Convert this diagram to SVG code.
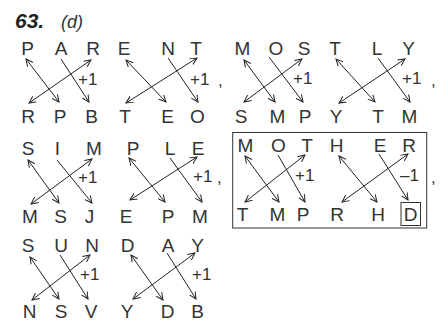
<svg xmlns="http://www.w3.org/2000/svg" width="447" height="321" viewBox="0 0 447 321">
<defs>
<style>
.l{font-family:"Liberation Sans",Arial,sans-serif;font-size:19px;fill:#333;text-anchor:middle}
.n{font-family:"Liberation Sans",Arial,sans-serif;font-size:17px;fill:#333}
.c{stroke:#222;stroke-width:1;fill:none}
.d{marker-start:url(#ah);marker-end:url(#ah)}
.s{marker-end:url(#ah)}
.box{fill:none;stroke:#333;stroke-width:1}
</style>
<marker id="ah" viewBox="0 0 8 8" refX="7" refY="4" markerWidth="8" markerHeight="8" markerUnits="userSpaceOnUse" orient="auto-start-reverse">
<path d="M0,0.6 L7,4 L0,7.4" fill="none" stroke="#222" stroke-width="1"/>
</marker>
</defs>
<rect width="447" height="321" fill="#fff"/>
<g id="title">
<text x="15" y="28" font-family="Liberation Sans,Arial,sans-serif" font-size="21" font-weight="bold" font-style="italic" fill="#222">63.</text>
<text x="61" y="28" font-family="Liberation Sans,Arial,sans-serif" font-size="18" font-style="italic" fill="#333">(d)</text>
</g>
<g id="g-PAR">
<text class="l" x="27.5" y="55">P</text><text class="l" x="61" y="55">A</text><text class="l" x="93" y="55">R</text>
<text class="l" x="28" y="123">R</text><text class="l" x="60" y="123">P</text><text class="l" x="91.5" y="123">B</text>
<text class="n" x="78" y="85">+1</text>
</g>
<g id="g-ENT">
<text class="l" x="124" y="55">E</text><text class="l" x="168" y="55">N</text><text class="l" x="196" y="55">T</text>
<text class="l" x="125" y="123">T</text><text class="l" x="167.5" y="123">E</text><text class="l" x="197.5" y="123">O</text>
<text class="n" x="190" y="85">+1</text><text class="n" x="218" y="86">,</text>
</g>
<g id="g-MOS">
<text class="l" x="242.5" y="55">M</text><text class="l" x="276" y="55">O</text><text class="l" x="304" y="55">S</text>
<text class="l" x="241" y="123">S</text><text class="l" x="277.5" y="123">M</text><text class="l" x="305" y="123">P</text>
<text class="n" x="293" y="84">+1</text>
</g>
<g id="g-TLY">
<text class="l" x="335" y="55">T</text><text class="l" x="377" y="55">L</text><text class="l" x="408.5" y="55">Y</text>
<text class="l" x="336" y="123">Y</text><text class="l" x="378" y="123">T</text><text class="l" x="409.5" y="123">M</text>
<text class="n" x="402" y="84">+1</text><text class="n" x="431" y="86">,</text>
</g>
<g id="g-SIM">
<text class="l" x="28" y="155">S</text><text class="l" x="57.5" y="155">I</text><text class="l" x="94" y="155">M</text>
<text class="l" x="30" y="222.5">M</text><text class="l" x="60.5" y="222.5">S</text><text class="l" x="89.5" y="222.5">J</text>
<text class="n" x="78" y="183">+1</text>
</g>
<g id="g-PLE">
<text class="l" x="133" y="155">P</text><text class="l" x="170" y="155">L</text><text class="l" x="198" y="155">E</text>
<text class="l" x="126" y="222.5">E</text><text class="l" x="168" y="222.5">P</text><text class="l" x="200" y="222.5">M</text>
<text class="n" x="193" y="182">+1</text><text class="n" x="217" y="183">,</text>
</g>
<g id="g-MOTHER">
<rect class="box" x="232.7" y="132.5" width="194" height="95.5"/>
<rect class="box" x="401" y="202.5" width="19.5" height="23"/>
<text class="l" x="245.5" y="152">M</text><text class="l" x="278.5" y="152">O</text><text class="l" x="307" y="152">T</text>
<text class="l" x="336.5" y="152">H</text><text class="l" x="380" y="152">E</text><text class="l" x="409" y="152">R</text>
<text class="l" x="242.5" y="220.5">T</text><text class="l" x="277.5" y="220.5">M</text><text class="l" x="303" y="220.5">P</text>
<text class="l" x="337" y="220.5">R</text><text class="l" x="378" y="220.5">H</text><text class="l" x="410.5" y="220.5">D</text>
<text class="n" x="295" y="181">+1</text><text class="n" x="400" y="181">–1</text><text class="n" x="431" y="183">,</text>
</g>
<g id="g-SUN">
<text class="l" x="28" y="252">S</text><text class="l" x="61" y="252">U</text><text class="l" x="92" y="252">N</text>
<text class="l" x="29.5" y="318">N</text><text class="l" x="61" y="318">S</text><text class="l" x="91" y="318">V</text>
<text class="n" x="80" y="280">+1</text>
</g>
<g id="g-DAY">
<text class="l" x="127.5" y="252">D</text><text class="l" x="168" y="252">A</text><text class="l" x="197.5" y="252">Y</text>
<text class="l" x="127" y="318">Y</text><text class="l" x="167.5" y="318">D</text><text class="l" x="197.5" y="318">B</text>
<text class="n" x="192" y="280">+1</text>
</g>
<g id="connectors" class="c">
<line class="d" x1="26" y1="59" x2="59" y2="102"/><line class="s" x1="61" y1="59" x2="89" y2="102"/><line class="d" x1="91" y1="60" x2="29" y2="103"/>
<line class="d" x1="126" y1="60" x2="166" y2="102"/><line class="s" x1="168" y1="58" x2="198" y2="102"/><line class="d" x1="197" y1="58" x2="126" y2="103"/>
<line class="d" x1="244" y1="60" x2="275" y2="102"/><line class="s" x1="269" y1="57" x2="303" y2="102"/><line class="d" x1="302" y1="59" x2="244" y2="102"/>
<line class="d" x1="336" y1="59" x2="375" y2="102"/><line class="s" x1="378" y1="58" x2="410" y2="102"/><line class="d" x1="405" y1="59" x2="339" y2="103"/>
<line class="d" x1="28" y1="160" x2="59" y2="203"/><line class="s" x1="57" y1="160" x2="92" y2="203"/><line class="d" x1="92" y1="159" x2="31" y2="204"/>
<line class="d" x1="129" y1="158" x2="165" y2="202"/><line class="s" x1="170" y1="158" x2="202" y2="202"/><line class="d" x1="197" y1="157" x2="130" y2="200"/>
<line class="d" x1="245" y1="156" x2="279" y2="202"/><line class="s" x1="278" y1="155" x2="305" y2="202"/><line class="d" x1="305" y1="155" x2="245" y2="202"/>
<line class="d" x1="339" y1="156" x2="377" y2="202"/><line class="s" x1="379" y1="154" x2="408" y2="200"/><line class="d" x1="408" y1="154" x2="342" y2="202"/>
<line class="d" x1="30" y1="257" x2="59" y2="299"/><line class="s" x1="60" y1="255" x2="88" y2="299"/><line class="d" x1="90" y1="255" x2="32" y2="300"/>
<line class="d" x1="131" y1="255" x2="163" y2="300"/><line class="s" x1="167" y1="253" x2="196" y2="299"/><line class="d" x1="195" y1="253" x2="133" y2="299"/>
</g>
</svg>
